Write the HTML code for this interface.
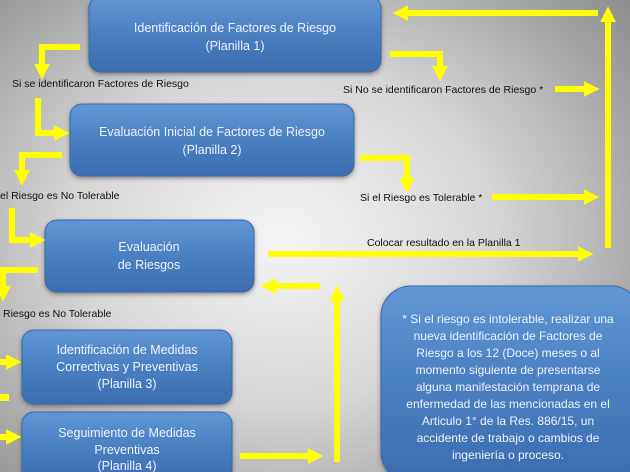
<!DOCTYPE html>
<html><head><meta charset="utf-8"><style>
html,body{margin:0;padding:0;width:630px;height:472px;overflow:hidden}
body{background:radial-gradient(ellipse 75% 80% at 45% 50%,#f4f4f4 0%,#d6d6d6 45%,#9c9c9c 85%,#888 100%)}
svg{position:absolute;left:0;top:0}
</style></head><body>
<svg width="630" height="472" xmlns="http://www.w3.org/2000/svg" font-family="Liberation Sans, sans-serif">
<defs>
<linearGradient id="g" x1="0" y1="0" x2="0" y2="1"><stop offset="0" stop-color="#6196d6"/><stop offset="0.5" stop-color="#4a7fc2"/><stop offset="1" stop-color="#3c6cb0"/></linearGradient>
<filter id="s"><feDropShadow dx="0" dy="2" stdDeviation="2" flood-color="#333" flood-opacity="0.5"/></filter>
<marker id="a" markerWidth="2.6" markerHeight="2.6" refX="1" refY="1.3" orient="auto" markerUnits="strokeWidth"><path d="M0,0L2.6,1.3L0,2.6z" fill="#ffff00"/></marker>
</defs>
<g filter="url(#s)" fill="url(#g)" stroke="#3a6aa8" stroke-width="1">
<rect x="89" y="-4" width="292" height="76" rx="12"/>
<rect x="70" y="104" width="284" height="72" rx="12"/>
<rect x="45" y="220" width="209" height="72" rx="12"/>
<rect x="22" y="330" width="210" height="74" rx="12"/>
<rect x="22" y="412" width="210" height="70" rx="12"/>
<rect x="381" y="286" width="260" height="196" rx="30"/>
</g>
<g fill="#eef3fb" font-size="12.5" text-anchor="middle">
<text x="235" y="32">Identificación de  Factores de Riesgo</text><text x="235" y="50">(Planilla 1)</text>
<text x="212" y="136">Evaluación Inicial  de Factores de Riesgo</text><text x="212" y="154">(Planilla 2)</text>
<text x="149" y="251">Evaluación</text><text x="149" y="269">de Riesgos</text>
<text x="127" y="354">Identificación de Medidas</text><text x="127" y="371">Correctivas y Preventivas</text><text x="127" y="388">(Planilla 3)</text>
<text x="127" y="437">Seguimiento de Medidas</text><text x="127" y="454">Preventivas</text><text x="127" y="470">(Planilla 4)</text>
</g>
<g fill="#eef3fb" font-size="12" text-anchor="middle">
<text x="508" y="323">* Si el riesgo es intolerable, realizar una</text>
<text x="508" y="340">nueva identificación de Factores de</text>
<text x="508" y="357">Riesgo a los 12 (Doce) meses o al</text>
<text x="508" y="374">momento siguiente de presentarse</text>
<text x="508" y="391">alguna manifestación temprana de</text>
<text x="508" y="408">enfermedad de las mencionadas en el</text>
<text x="508" y="425">Articulo 1° de la Res. 886/15, un</text>
<text x="508" y="442">accidente de trabajo o cambios de</text>
<text x="508" y="459">ingeniería o proceso.</text>
</g>
<g fill="#111" font-size="10.5">
<text x="12" y="87">Si se identificaron Factores de Riesgo</text>
<text x="343" y="93">Si No se identificaron Factores de Riesgo *</text>
<text x="0" y="199">el Riesgo es No Tolerable</text>
<text x="360" y="201">Si el Riesgo es Tolerable *</text>
<text x="367" y="246">Colocar resultado en la Planilla 1</text>
<text x="3" y="317">Riesgo es No Tolerable</text>
</g>
<g fill="none" stroke="#ffff00" stroke-width="6" marker-end="url(#a)">
<path d="M80,47H42V70"/>
<path d="M390,54H440V72"/>
<path d="M598,13H402"/>
<path d="M608,248V16"/>
<path d="M555,89H590"/>
<path d="M38,98V133H60"/>
<path d="M62,155H22V176"/>
<path d="M360,158H407V184"/>
<path d="M492,197H590"/>
<path d="M12,208V240H36"/>
<path d="M38,270H3V292"/>
<path d="M268,254H584"/>
<path d="M320,286H270"/>
<path d="M337,462V295"/>
<path d="M0,362H12"/>
<path d="M0,437H12"/>
<path d="M240,456H314"/>
</g>
<rect x="0" y="394" width="9" height="7" fill="#ffff00"/>
</svg>
</body></html>
